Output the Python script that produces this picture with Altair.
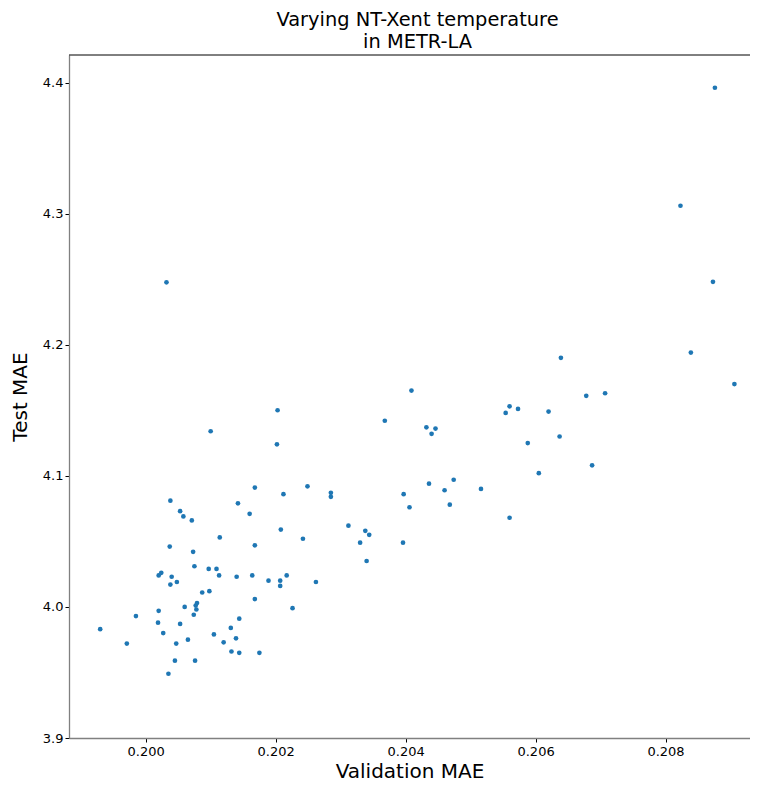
import altair as alt
import pandas as pd

val_mae = [
    0.19930, 0.19971, 0.19985, 0.20020, 0.20019, 0.20027, 0.20020, 0.20024, 0.20032, 0.20038,
    0.20037, 0.20040, 0.20038, 0.20048, 0.20053, 0.20058, 0.20035, 0.20045, 0.20047, 0.20053,
    0.20060, 0.20065, 0.20071, 0.20073, 0.20075, 0.20074, 0.20076, 0.20079, 0.20077, 0.20078,
    0.20087, 0.20097, 0.20100, 0.20098, 0.20105, 0.20109, 0.20113, 0.20114, 0.20120, 0.20131,
    0.20132, 0.20139, 0.20140, 0.20142, 0.20144, 0.20144, 0.20160, 0.20164, 0.20168, 0.20168,
    0.20168, 0.20175, 0.20189, 0.20203, 0.20202, 0.20207, 0.20207, 0.20208, 0.20212, 0.20217,
    0.20226, 0.20242, 0.20249, 0.20262, 0.20285, 0.20285, 0.20312, 0.20330, 0.20338, 0.20344,
    0.20340, 0.20368, 0.20396, 0.20397, 0.20406, 0.20409, 0.20432, 0.20440, 0.20446, 0.20436,
    0.20460, 0.20468, 0.20474, 0.20516, 0.20554, 0.20560, 0.20573, 0.20560, 0.20588, 0.20605,
    0.20620, 0.20637, 0.20639, 0.20678, 0.20687, 0.20707, 0.20823, 0.20839, 0.20873, 0.20876,
    0.20906,
]
test_mae = [
    3.983, 3.972, 3.993, 3.997, 3.988, 3.980, 4.024, 4.026, 4.2476, 4.081,
    4.046, 4.023, 4.017, 4.019, 4.073, 4.069, 3.949, 3.959, 3.972, 3.987,
    4.000, 3.975, 4.066, 4.042, 4.031, 3.994, 3.959, 4.003, 4.001, 3.998,
    4.011, 4.029, 4.134, 4.012, 3.979, 4.029, 4.024, 4.053, 3.973, 3.984,
    3.966, 3.976, 4.023, 4.079, 3.965, 3.991, 4.071, 4.024, 4.091, 4.047,
    4.006, 3.965, 4.020, 4.150, 4.124, 4.016, 4.020, 4.059, 4.086, 4.024,
    3.999, 4.052, 4.092, 4.019, 4.087, 4.084, 4.062, 4.049, 4.058, 4.055,
    4.035, 4.142, 4.049, 4.086, 4.076, 4.165, 4.137, 4.132, 4.136, 4.094,
    4.089, 4.078, 4.097, 4.090, 4.148, 4.153, 4.151, 4.068, 4.125, 4.102,
    4.149, 4.130, 4.190, 4.161, 4.108, 4.163, 4.306, 4.194, 4.248, 4.396,
    4.170,
]

x_ticks = [0.200, 0.202, 0.204, 0.206, 0.208]
y_ticks = [3.9, 4.0, 4.1, 4.2, 4.3, 4.4]
title_lines = ["Varying NT-Xent temperature", "in METR-LA"]

df = pd.DataFrame({"val": val_mae, "test": test_mae})

FONT = "DejaVu Sans"
W, H = 681, 683

points = (
    alt.Chart(df)
    .mark_circle(size=22, color="#1f77b4", opacity=1)
    .encode(
        x=alt.X(
            "val:Q",
            scale=alt.Scale(domain=[0.19882, 0.20930], nice=False, zero=False),
            axis=alt.Axis(title="Validation MAE", values=x_ticks, format=".3f",
                          titlePadding=3, labelPadding=3),
        ),
        y=alt.Y(
            "test:Q",
            scale=alt.Scale(domain=[3.9, 4.421], nice=False, zero=False),
            axis=alt.Axis(title="Test MAE", values=y_ticks, format=".1f",
                          titlePadding=12, labelPadding=2),
        ),
    )
)

top_spine = (
    alt.Chart(df.head(1))
    .mark_rule(color="black", strokeWidth=1)
    .encode(x=alt.value(0), x2=alt.value(W + 10), y=alt.value(0))
)

chart = (
    alt.layer(points, top_spine)
    .properties(
        width=W,
        height=H,
        title=alt.TitleParams(
            title_lines, font=FONT, fontSize=19.4, fontWeight="normal",
            anchor="middle", offset=2, dx=8, lineHeight=22, color="black",
        ),
        autosize="none",
        padding={"left": 61, "top": 47, "right": 0, "bottom": 48},
    )
    .configure_view(stroke=None)
    .configure_axis(
        grid=False,
        domainColor="#808080",
        domainWidth=1.3,
        tickColor="black",
        tickSize=4,
        labelFont=FONT,
        labelFontSize=13,
        labelColor="black",
        titleFont=FONT,
        titleFontSize=20,
        titleFontWeight="normal",
        titleColor="black",
    )
)

chart.save("out.html", embed_options={"renderer": "svg", "actions": False})
